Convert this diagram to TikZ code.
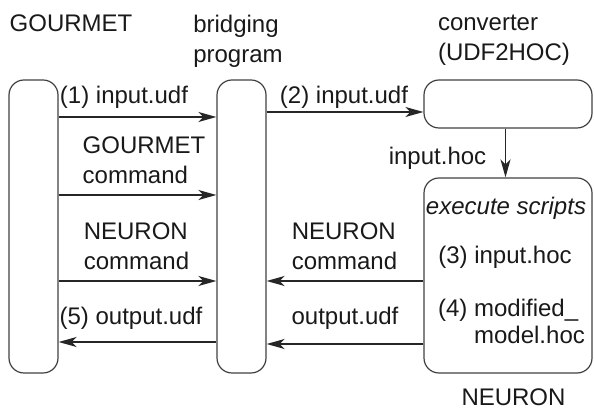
\documentclass[tikz,border=0pt]{standalone}
\usepackage{fontspec}
\setmainfont{Liberation Sans}
\usepackage{tikz}
\usetikzlibrary{positioning, calc, arrows.meta}

\tikzset{
  unit/.style={draw=black!75, line width=0.6pt, rounded corners=7.5pt, inner sep=0pt},
  flow/.style={line width=0.9pt, black!85, -{Stealth[length=9pt, width=5pt, inset=2.5pt]}},
  lbl/.style={inner sep=0pt, align=left, text=black!90, font=\fontsize{12}{15}\selectfont}
}

\begin{document}
\begin{tikzpicture}[x=0.5pt, y=-0.5pt]
\useasboundingbox (0,0) rectangle (594,410);

% boxes
\node [unit, minimum width=24.5pt, minimum height=146.5pt] (gourmet) at (33.5,226.5) {};
\node [unit, minimum width=24.5pt, minimum height=146.5pt] (bridge) at (241.5,226.5) {};
\node [unit, minimum width=84pt, minimum height=24pt] (conv) at (508,104) {};
\node [unit, minimum width=84pt, minimum height=97.5pt] (neuron) at (508,275.5) {};

% titles
\node [lbl] (tgourmet) at (71,23) {GOURMET};
\node [lbl] (tbridge) at (238,41) {bridging\\program};
\node [lbl] (tconv) at (504,40) {converter\\(UDF2HOC)};
\node [lbl] (tneuron) at (513.5,397) {NEURON};

% left column of arrows
\draw [flow] (gourmet.east |- 0,117) -- (bridge.west |- 0,117);
\draw [flow] (gourmet.east |- 0,195) -- (bridge.west |- 0,195);
\draw [flow] (gourmet.east |- 0,281) -- (bridge.west |- 0,281);
\draw [flow] (bridge.west |- 0,342) -- (gourmet.east |- 0,342);
\node [lbl] (l1) at (124,97) {(1) input.udf};
\node [lbl] (l2) at (144,160) {GOURMET\\command};
\node [lbl] (l3) at (136.5,246) {NEURON\\command};
\node [lbl] (l4) at (131,318) {(5) output.udf};

% right column of arrows
\draw [flow] (bridge.east |- 0,112) -- (conv.west |- 0,112);
\draw [flow] (conv.south -| 505.5,0) -- (neuron.north -| 505.5,0);
\draw [flow] (neuron.west |- 0,281) -- (bridge.east |- 0,281);
\draw [flow] (neuron.west |- 0,344) -- (bridge.east |- 0,344);
\node [lbl] (r1) at (344,97) {(2) input.udf};
\node [lbl] (r2) at (437.5,158) {input.hoc};
\node [lbl] (r3) at (344.5,246) {NEURON\\command};
\node [lbl] (r4) at (345,318) {output.udf};

% inside NEURON
\node [lbl] (s0) at (506,208) {\itshape execute scripts};
\node [lbl] (s1) at (505,257) {(3) input.hoc};
\node [lbl, font=\fontsize{12}{13.5}\selectfont] (s2) at (511.5,321.5) {(4) modified\_\\\hphantom{(4) }model.hoc};
\end{tikzpicture}
\end{document}
